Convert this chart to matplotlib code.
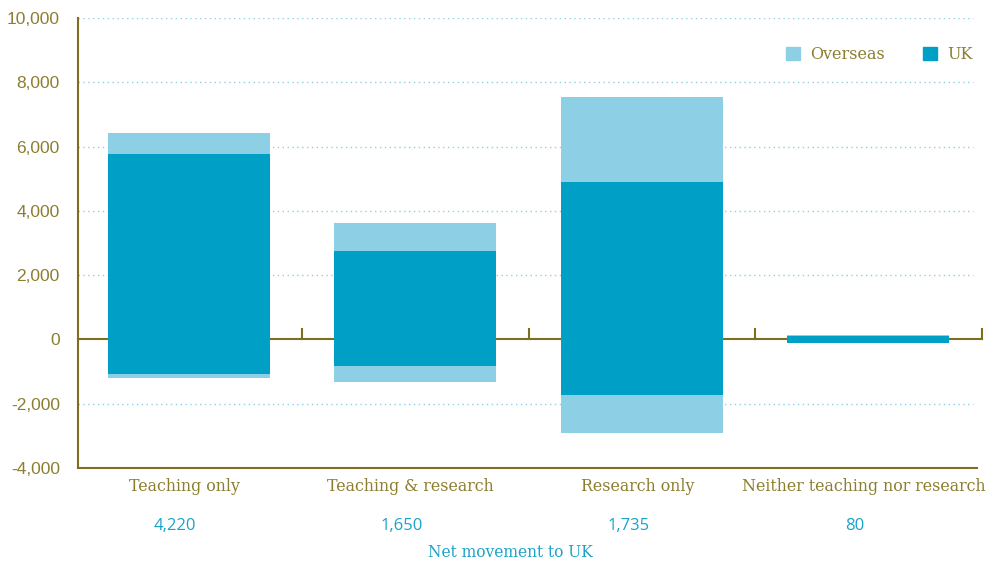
import numpy as np
import matplotlib
matplotlib.use('Agg')
from matplotlib import pyplot as plt
from matplotlib.ticker import FuncFormatter

plt.rcParams['axes.unicode_minus'] = False

categories = ['Teaching only', 'Teaching & research', 'Research only', 'Neither teaching nor research']
uk_in = [5780, 2760, 4910, 110]
overseas_in = [650, 870, 2640, 15]
uk_out = [-1090, -840, -1740, -110]
overseas_out = [-120, -500, -1180, 0]
net_labels = ['4,220', '1,650', '1,735', '80']

UK_COLOR = '#00A0C6'
OVERSEAS_COLOR = '#8DD0E5'
OLIVE = '#8C7E30'
AXIS = '#7D6F1F'
NET_COLOR = '#1AA3C8'

fig = plt.figure(figsize=(9.99, 5.61), dpi=100)
ax = fig.add_axes([0.078, 0.166, 0.900, 0.802])

x = np.arange(len(categories))
w = 0.715
ax.bar(x, uk_in, w, color=UK_COLOR, zorder=3)
ax.bar(x, overseas_in, w, bottom=uk_in, color=OVERSEAS_COLOR, zorder=3)
ax.bar(x, uk_out, w, color=UK_COLOR, zorder=3)
ax.bar(x, overseas_out, w, bottom=uk_out, color=OVERSEAS_COLOR, zorder=3)

ax.set_xlim(-0.49, 3.48)
ax.set_ylim(-4000, 10000)
ax.set_yticks(np.arange(-4000, 10001, 2000))
ax.yaxis.set_major_formatter(FuncFormatter(lambda v, p: f'{int(v):,}'))
ax.tick_params(axis='y', length=0, pad=13, labelsize=12.5, labelcolor=OLIVE)
ax.set_xticks([])
for lab in ax.get_yticklabels():
    lab.set_family('Liberation Sans')

# dotted grid
for yv in [-2000, 2000, 4000, 6000, 8000, 10000]:
    ax.axhline(yv, xmax=0.995, color='#8DCFE3', lw=1, ls=(0, (1, 2.5)), zorder=1)
ax.plot([-0.49, 3.5], [0, 0], color=AXIS, lw=1.5, zorder=2, clip_on=False)
for xb in [0.5, 1.5, 2.5, 3.5]:
    ax.plot([xb, xb], [0, 330], color=AXIS, lw=1.5, zorder=2, clip_on=False)

for s in ['top', 'right']:
    ax.spines[s].set_visible(False)
for s in ['left', 'bottom']:
    ax.spines[s].set_color(AXIS)
    ax.spines[s].set_linewidth(1.5)

# category labels and net values
for i, (cat, net) in enumerate(zip(categories, net_labels)):
    ax.text(i - 0.02, -4330, cat, ha='center', va='top', fontsize=11.4, color=OLIVE,
            family='DejaVu Serif', clip_on=False)
    ax.text(i - 0.06, -5550, net, ha='center', va='top', fontsize=12, color=NET_COLOR,
            family='Open Sans', clip_on=False)
fig.text(0.511, 0.016, 'Net movement to UK', ha='center', va='center', fontsize=11.2,
         color=NET_COLOR, family='DejaVu Serif')

# legend
handles = [plt.Rectangle((0, 0), 1, 1, color=OVERSEAS_COLOR), plt.Rectangle((0, 0), 1, 1, color=UK_COLOR)]
leg = ax.legend(handles, ['Overseas', 'UK'], loc='upper right', bbox_to_anchor=(1.011, 0.97),
                ncol=2, frameon=False, handlelength=0.9, handleheight=0.9, columnspacing=2.4,
                handletextpad=0.6, prop={'family': 'DejaVu Serif', 'size': 11.5})
for t in leg.get_texts():
    t.set_color(OLIVE)

fig.savefig('out.png', dpi=100)
